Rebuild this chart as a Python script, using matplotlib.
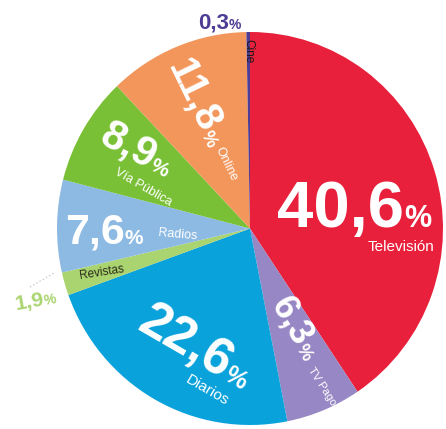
import matplotlib.pyplot as plt

# Inversión publicitaria por medio (%)
medios = ['Televisión', 'TV Pago', 'Diarios', 'Revistas', 'Radios', 'Vía Pública', 'Online', 'Cine']
shares = [40.6, 6.3, 22.6, 1.9, 7.6, 8.9, 11.8, 0.3]
colores = ['#E8203B', '#9787C4', '#0AA2DB', '#A9D46F', '#8DBAE3', '#7AC036', '#F3965B', '#4E3C94']

W, H = 446, 429
CX, CY = 250, 228.5
RX, RY = 193, 196.5


def px(x, y):
    # pixel position in the picture -> data coords
    return (x - CX) / RX, (CY - y) / RY


def pct(v):
    return f'{v:.1f}'.replace('.', ',')


plt.rcParams['font.family'] = ['Liberation Sans', 'DejaVu Sans']

fig = plt.figure(figsize=(W / 100, H / 100), dpi=100)
ax = fig.add_axes([0, 0, 1, 1])
ax.pie(shares, colors=colores, startangle=90, counterclock=False, radius=1,
       wedgeprops=dict(linewidth=0))
ax.set_aspect('auto')
ax.set_xlim(-CX / RX, (W - CX) / RX)
ax.set_ylim(-(H - CY) / RY, CY / RY)
ax.axis('off')

# layout per label: number anchor, rotation, number size, % size,
# sub-label pos, sub rotation, sub size, number colour, sub colour
layout = {
    'Televisión': ((404, 227), 0, 47, 22, (401, 247), 0, 11, 'white', 'white'),
    'TV Pago': ((295, 348), -60, 26, 13, (322, 386), -57, 8, 'white', 'white'),
    'Diarios': ((222, 379), -30, 37, 18, (207, 390), -30, 11, 'white', 'white'),
    'Revistas': ((45, 305), 10, 15, 10, (102, 273), 9, 8.5, '#A9D46F', '#2b2b1a'),
    'Radios': ((125, 244), 0, 31, 15, (178, 235), -5, 9, 'white', 'white'),
    'Vía Pública': ((149, 169), -28, 30, 15, (143, 187), -30, 9, 'white', 'white'),
    'Online': ((201, 134), -64, 29, 13, (226, 164), -64, 9, 'white', 'white'),
    'Cine': ((229, 29), 0, 16, 10, (248, 51), -90, 8.5, '#4E3C94', '#1a1a1a'),
}

for medio, v in zip(medios, shares):
    anchor, rot, nsize, psize, subpos, subrot, ssize, ncol, scol = layout[medio]
    x, y = px(*anchor)
    ax.text(x, y, pct(v), ha='right', va='baseline', rotation=rot,
            rotation_mode='anchor', fontsize=nsize, fontweight='bold', color=ncol)
    ax.text(x, y, '%', ha='left', va='baseline', rotation=rot,
            rotation_mode='anchor', fontsize=psize, fontweight='bold', color=ncol)
    sx, sy = px(*subpos)
    ax.text(sx, sy, medio, ha='center', va='center', rotation=subrot,
            rotation_mode='anchor', fontsize=ssize, color=scol)

# dotted leader for the small Revistas slice
lx, ly = zip(px(30, 287), px(54, 273))
ax.plot(lx, ly, ls=':', lw=1, color='#cccccc')

fig.savefig('out.png', dpi=100)
